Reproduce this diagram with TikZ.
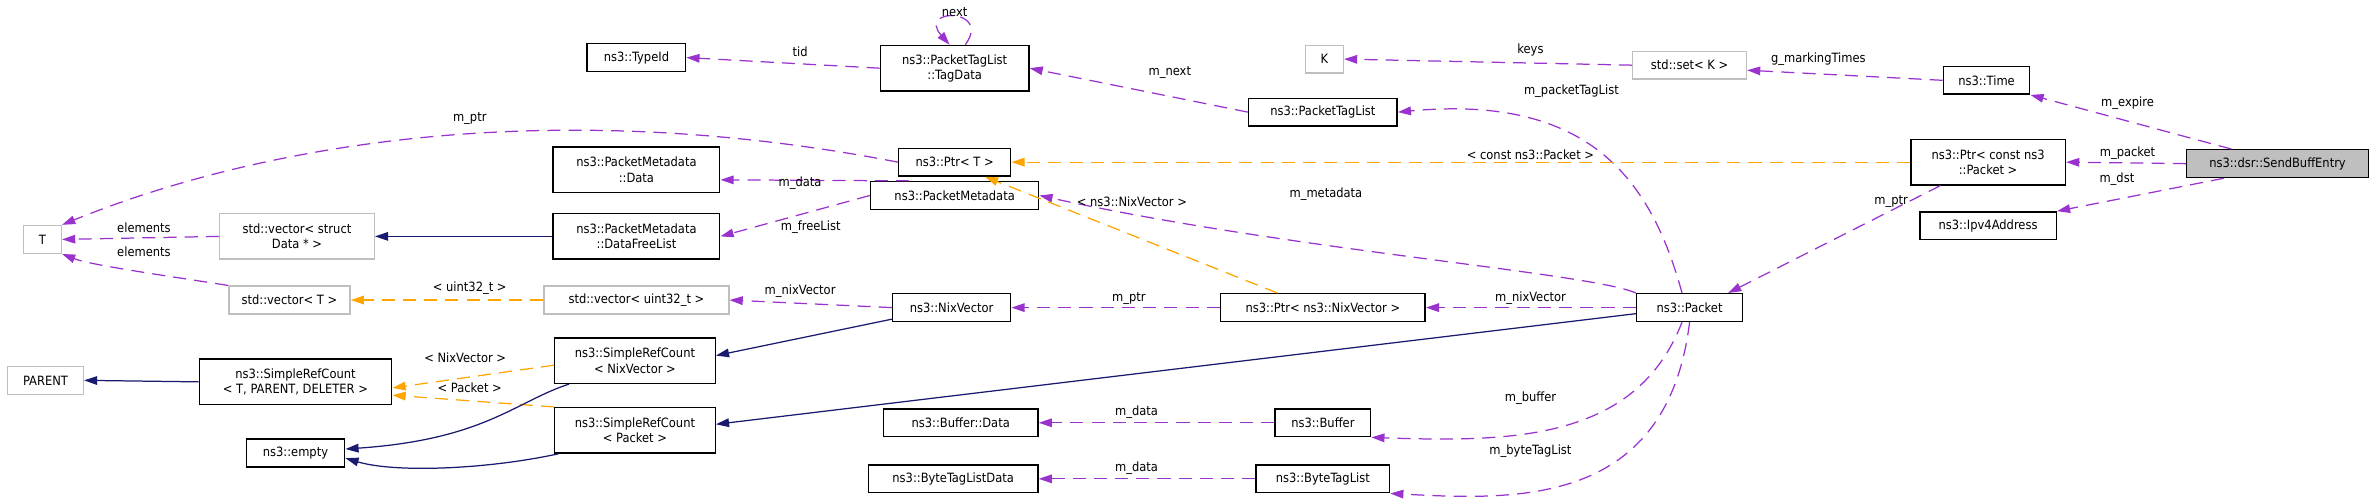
\documentclass[tikz,border=0pt]{standalone}
\usepackage{fontspec}
\setmainfont{DejaVu Sans Condensed}
\usetikzlibrary{arrows.meta}
\definecolor{mem}{HTML}{9A32CD}
\definecolor{tpl}{HTML}{FFA500}
\definecolor{inh}{HTML}{191970}
\definecolor{gb}{HTML}{BFBFBF}
\begin{document}
\begin{tikzpicture}[x=0.03cm,y=-0.03cm,font=\fontsize{7.2}{8.6}\selectfont,
 box/.style={draw=black,line width=0.8pt,fill=white,minimum height=0.55cm,inner sep=1pt,align=center},
 gbox/.style={box,draw=gb},
 two/.style={minimum height=0.9cm},
 lbl/.style={inner sep=0.5pt,fill=none},
 tip/.style={-{Triangle[length=0.26cm,width=0.17cm]}},
 mem/.style={tip,draw=mem,line width=0.7pt,dash pattern=on 2.6mm off 1.6mm},
 tpl/.style={tip,draw=tpl,line width=0.7pt,dash pattern=on 2.6mm off 1.6mm},
 inh/.style={tip,draw=inh,line width=0.7pt},
]
\useasboundingbox (0,0) rectangle (1568,331);
% nodes
\node[box,fill=gb,minimum width=3.6cm] (sbe) at (1503,108) {ns3::dsr::SendBuffEntry};
\node[box,minimum width=1.71cm] (time) at (1311,53) {ns3::Time};
\node[box,two,minimum width=3.06cm] (pcp) at (1312,107) {ns3::Ptr< const ns3\\::Packet >};
\node[box,minimum width=2.7cm] (ipv4) at (1312,149) {ns3::Ipv4Address};
\node[gbox,minimum width=2.25cm] (set) at (1115,43) {std::set< K >};
\node[gbox,minimum width=0.75cm] (K) at (874,39) {K};
\node[box,minimum width=2.94cm] (ptl) at (873,74) {ns3::PacketTagList};
\node[box,two,minimum width=2.94cm] (td) at (630,45) {ns3::PacketTagList\\::TagData};
\node[box,minimum width=1.95cm] (tid) at (420,38) {ns3::TypeId};
\node[box,minimum width=2.22cm] (ptrT) at (630,107) {ns3::Ptr< T >};
\node[box,two,minimum width=3.3cm] (pmd) at (420,112) {ns3::PacketMetadata\\::Data};
\node[box,two,minimum width=3.3cm] (dfl) at (420,156) {ns3::PacketMetadata\\::DataFreeList};
\node[box,minimum width=3.33cm] (pm) at (630,129) {ns3::PacketMetadata};
\node[gbox,minimum width=0.75cm] (T) at (28,158) {T};
\node[gbox,two,minimum width=3.06cm] (vd) at (196,156) {std::vector< struct\\Data * >};
\node[gbox,minimum width=2.4cm] (vT) at (191,198) {std::vector< T >};
\node[gbox,minimum width=3.66cm] (vU) at (420,198) {std::vector< uint32\_t >};
\node[box,minimum width=2.34cm] (nix) at (628,203) {ns3::NixVector};
\node[box,minimum width=4.05cm] (pnix) at (873,203) {ns3::Ptr< ns3::NixVector >};
\node[box,minimum width=2.1cm] (pkt) at (1115,203) {ns3::Packet};
\node[gbox,minimum width=1.5cm] (par) at (30,251) {PARENT};
\node[box,two,minimum width=3.81cm] (src) at (195,252) {ns3::SimpleRefCount\\< T, PARENT, DELETER >};
\node[box,two,minimum width=3.18cm] (srcn) at (419,238) {ns3::SimpleRefCount\\< NixVector >};
\node[box,two,minimum width=3.18cm] (srcp) at (419,284) {ns3::SimpleRefCount\\< Packet >};
\node[box,minimum width=1.95cm] (emp) at (195,299) {ns3::empty};
\node[box,minimum width=3.06cm] (bd) at (634,279) {ns3::Buffer::Data};
\node[box,minimum width=1.89cm] (buf) at (873,279) {ns3::Buffer};
\node[box,minimum width=3.36cm] (btld) at (629,316) {ns3::ByteTagListData};
\node[box,minimum width=2.64cm] (btl) at (873,316) {ns3::ByteTagList};
% member edges
\draw[mem] (sbe.north west)++(30,0) -- (time.south east);
\draw[mem] (sbe.west) -- (pcp.east);
\draw[mem] (sbe.south west)++(25,0) -- (ipv4.north east);
\draw[mem] (time.west) -- ([yshift=-0.1cm]set.east);
\draw[mem] (set.west) -- (K.east);
\draw[mem] (pcp.south west)++(20,0) -- ([xshift=-0.3cm]pkt.north east);
\draw[mem] (pkt.north)++(-5,0) .. controls (1090,120) and (1050,62) .. (ptl.east);
\draw[mem] (ptl.west) -- (td.east);
\draw[mem] (td.north)++(7,0) .. controls (655,5) and (605,5) .. ([xshift=-0.1cm]td.north);
\draw[mem] (td.west) -- (tid.east);
\draw[mem] (ptrT.west) .. controls (350,60) and (160,100) .. (T.north east);
\draw[mem] (pkt.north west) .. controls (1050,180) and (850,165) .. (pm.east);
\draw[mem] (pm.north)++(-30,0) -- ([yshift=-0.2cm]pmd.east);
\draw[mem] (pm.west) -- (dfl.east);
\draw[mem] (pkt.west) -- (pnix.east);
\draw[mem] (pnix.west) -- (nix.east);
\draw[mem] (nix.west) -- (vU.east);
\draw[mem] (vd.west) -- (T.east);
\draw[mem] (vT.north west) .. controls (110,182) and (60,175) .. (T.south east);
\draw[mem] (pkt.south)++(-5,0) .. controls (1080,290) and (1000,292) .. (buf.south east);
\draw[mem] (pkt.south) .. controls (1100,335) and (1000,330) .. (btl.south east);
\draw[mem] (buf.west) -- (bd.east);
\draw[mem] (btl.west) -- (btld.east);
% template edges
\draw[tpl] (pcp.west) -- (ptrT.east);
\draw[tpl] (pnix.north)++(-30,0) -- ([xshift=0.6cm]ptrT.south);
\draw[tpl] (vU.west) -- (vT.east);
\draw[tpl] (srcn.west)++(0,3) -- ([yshift=-0.12cm]src.east);
\draw[tpl] (srcp.north west) -- ([yshift=0.2cm]src.south east);
% inheritance
\draw[inh] (dfl.west) -- (vd.east);
\draw[inh] (src.west) -- (par.east);
\draw[inh] (pkt.west)++(0,4) -- ([yshift=0.12cm]srcp.east);
\draw[inh] (nix.south west)++(0,-2) -- ([yshift=0.1cm]srcn.east);
\draw[inh] (srcn.south west)++(10,0) .. controls (340,265) and (320,290) .. ([yshift=0.08cm]emp.east);
\draw[inh] (srcp.south west)++(3,0) .. controls (320,310) and (260,312) .. ([yshift=-0.1cm]emp.east);
% labels
\node[lbl] (l1) at (1404,68) {m\_expire};
\node[lbl] (l2) at (1404,101) {m\_packet};
\node[lbl] (l3) at (1397,118) {m\_dst};
\node[lbl] (l4) at (1200,39) {g\_markingTimes};
\node[lbl] (l5) at (1010,33) {keys};
\node[lbl] (l6) at (1248,133) {m\_ptr};
\node[lbl] (l7) at (1037,60) {m\_packetTagList};
\node[lbl] (l8) at (772,48) {m\_next};
\node[lbl] (l9) at (630,8) {next};
\node[lbl] (l10) at (528,34) {tid};
\node[lbl] (l11) at (310,78) {m\_ptr};
\node[lbl] (l12) at (875,128) {m\_metadata};
\node[lbl] (l13) at (528,121) {m\_data};
\node[lbl] (l14) at (535,150) {m\_freeList};
\node[lbl] (l15) at (1010,197) {m\_nixVector};
\node[lbl] (l16) at (745,197) {m\_ptr};
\node[lbl] (l17) at (528,192) {m\_nixVector};
\node[lbl] (l18) at (95,150) {elements};
\node[lbl] (l19) at (95,166) {elements};
\node[lbl] (l20) at (1010,263) {m\_buffer};
\node[lbl] (l21) at (1010,298) {m\_byteTagList};
\node[lbl] (l22) at (750,272) {m\_data};
\node[lbl] (l23) at (750,309) {m\_data};
\node[lbl] (l24) at (1010,102) {< const ns3::Packet >};
\node[lbl] (l25) at (747,133) {< ns3::NixVector >};
\node[lbl] (l26) at (310,190) {< uint32\_t >};
\node[lbl] (l27) at (307,236) {< NixVector >};
\node[lbl] (l28) at (310,256) {< Packet >};
\end{tikzpicture}
\end{document}
